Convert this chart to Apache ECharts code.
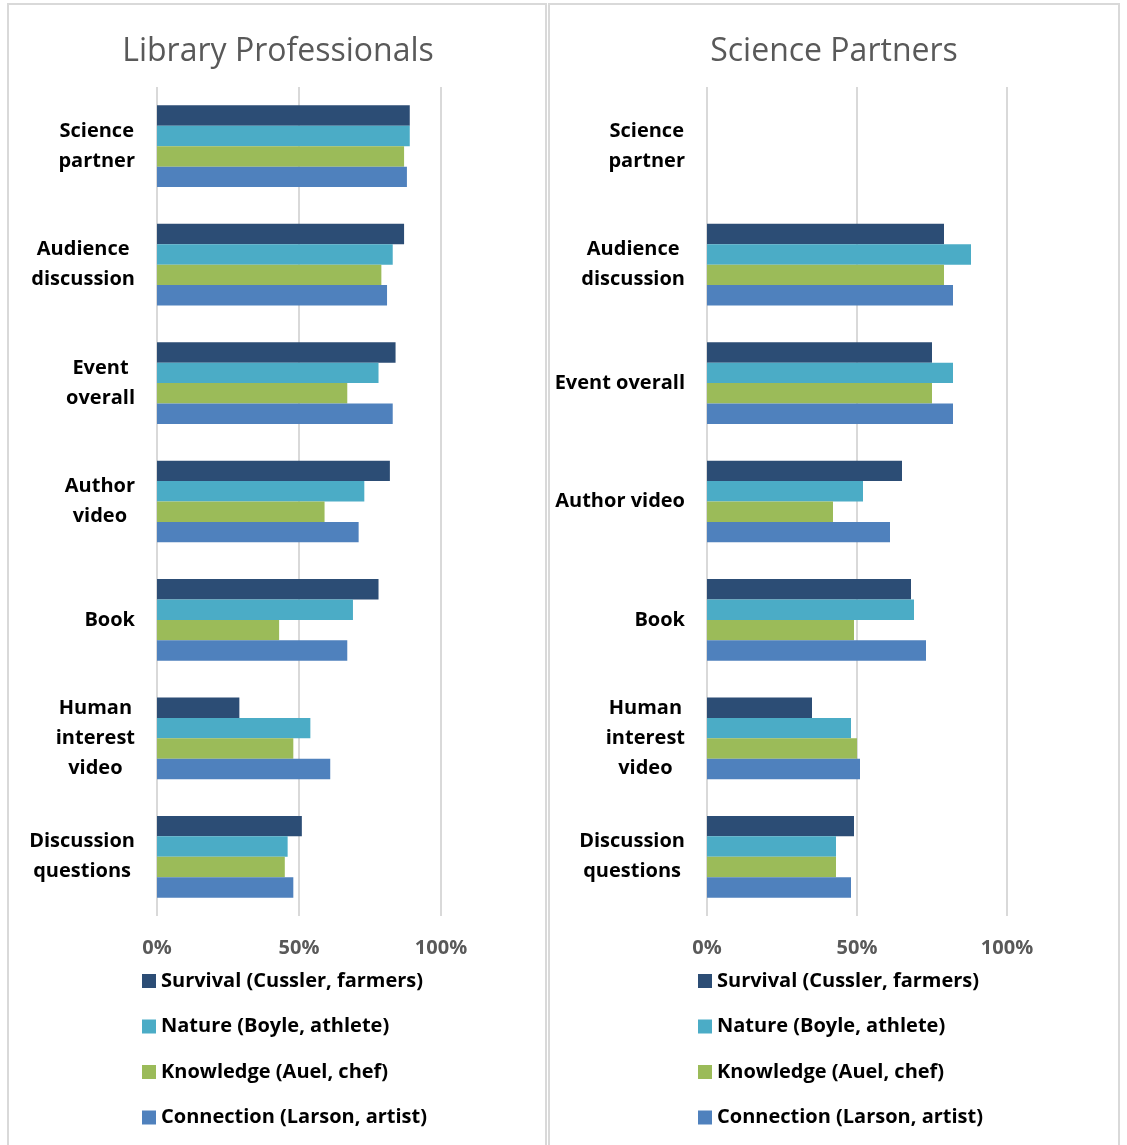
<!DOCTYPE html>
<html>
<head>
<meta charset="utf-8">
<script src="https://cdn.jsdelivr.net/npm/echarts@6/dist/echarts.min.js"></script>
<style>
  html, body { margin: 0; padding: 0; background: #fff; }
  #chart { width: 1127px; height: 1145px; }
</style>
</head>
<body>
<div id="chart"></div>
<script>
// categories, top to bottom (line breaks as in the picture)
const leftCategories = ["Science\npartner", "Audience\ndiscussion", "Event\noverall", "Author\nvideo", "Book", "Human\ninterest\nvideo", "Discussion\nquestions"];
const rightCategories = ["Science\npartner", "Audience\ndiscussion", "Event overall", "Author video", "Book", "Human\ninterest\nvideo", "Discussion\nquestions"];
const seriesNames = ["Survival (Cussler, farmers)", "Nature (Boyle, athlete)", "Knowledge (Auel, chef)", "Connection (Larson, artist)"];
const seriesColors = ["#2c4d75", "#4bacc6", "#9bbb59", "#4f81bd"];
const ticks = [0, 50, 100];

// Library Professionals, percent
const libSurvival = [89, 87, 84, 82, 78, 29, 51];
const libNature = [89, 83, 78, 73, 69, 54, 46];
const libKnowledge = [87, 79, 67, 59, 43, 48, 45];
const libConnection = [88, 81, 83, 71, 67, 61, 48];

// Science Partners, percent
const sciSurvival = [null, 79, 75, 65, 68, 35, 49];
const sciNature = [null, 88, 82, 52, 69, 48, 43];
const sciKnowledge = [null, 79, 75, 42, 49, 50, 43];
const sciConnection = [null, 82, 82, 61, 73, 51, 48];

const libData = [libSurvival, libNature, libKnowledge, libConnection];
const sciData = [sciSurvival, sciNature, sciKnowledge, sciConnection];

const font = "Open Sans";
const border = "#d9d9d9";

function catAxis(idx, cats) {
  return {
    type: "category",
    gridIndex: idx,
    data: cats,
    inverse: true,
    axisLine: { show: false },
    axisTick: { show: false },
    axisLabel: {
      margin: 22,
      align: "right",
      formatter: (v) => v.split("\n").map((s) => "{c|" + s + "}").join("\n"),
      rich: {
        c: { align: "center", fontFamily: font, fontSize: 20, fontWeight: "bold", color: "#000", lineHeight: 30 },
      },
    },
  };
}

function valAxis(idx) {
  return {
    type: "value",
    gridIndex: idx,
    min: ticks[0],
    max: ticks[ticks.length - 1],
    interval: 50,
    axisLine: { show: false },
    axisTick: { show: false },
    splitLine: { lineStyle: { color: border, width: 2 } },
    axisLabel: {
      margin: 22,
      formatter: "{value}%",
      fontFamily: font,
      fontSize: 20,
      fontWeight: "bold",
      color: "#595959",
    },
  };
}

const series = [];
[libData, sciData].forEach((set, g) => {
  set.forEach((vals, i) => {
    series.push({
      name: seriesNames[i],
      type: "bar",
      xAxisIndex: g,
      yAxisIndex: g,
      data: vals,
      barGap: "0%",
      barCategoryGap: "31%",
      itemStyle: { color: seriesColors[i] },
    });
  });
});

function legend(left) {
  return {
    orient: "vertical",
    left: left,
    top: 971,
    padding: 0,
    itemWidth: 14,
    itemHeight: 14,
    itemGap: 25.5,
    icon: "rect",
    data: seriesNames,
    textStyle: { fontFamily: font, fontSize: 20, fontWeight: "bold", color: "#000", lineHeight: 20 },
  };
}

const option = {
  animation: false,
  color: seriesColors,
  graphic: [
    { type: "rect", shape: { x: 8, y: 4, width: 538, height: 1160 }, style: { fill: "none", stroke: border, lineWidth: 2 } },
    { type: "rect", shape: { x: 549, y: 4, width: 570, height: 1160 }, style: { fill: "none", stroke: border, lineWidth: 2 } },
  ],
  title: [
    { text: "Library Professionals", left: 273, top: 31, textAlign: "center", textStyle: { fontFamily: font, fontSize: 32, fontWeight: "normal", color: "#595959" } },
    { text: "Science Partners", left: 829, top: 31, textAlign: "center", textStyle: { fontFamily: font, fontSize: 32, fontWeight: "normal", color: "#595959" } },
  ],
  legend: [legend(142), legend(698)],
  grid: [
    { left: 157, top: 87, width: 284, height: 829 },
    { left: 707, top: 87, width: 300, height: 829 },
  ],
  xAxis: [valAxis(0), valAxis(1)],
  yAxis: [catAxis(0, leftCategories), catAxis(1, rightCategories)],
  series: series,
};

const myChart = echarts.init(document.getElementById("chart"));
myChart.setOption(option);
</script>
</body>
</html>
